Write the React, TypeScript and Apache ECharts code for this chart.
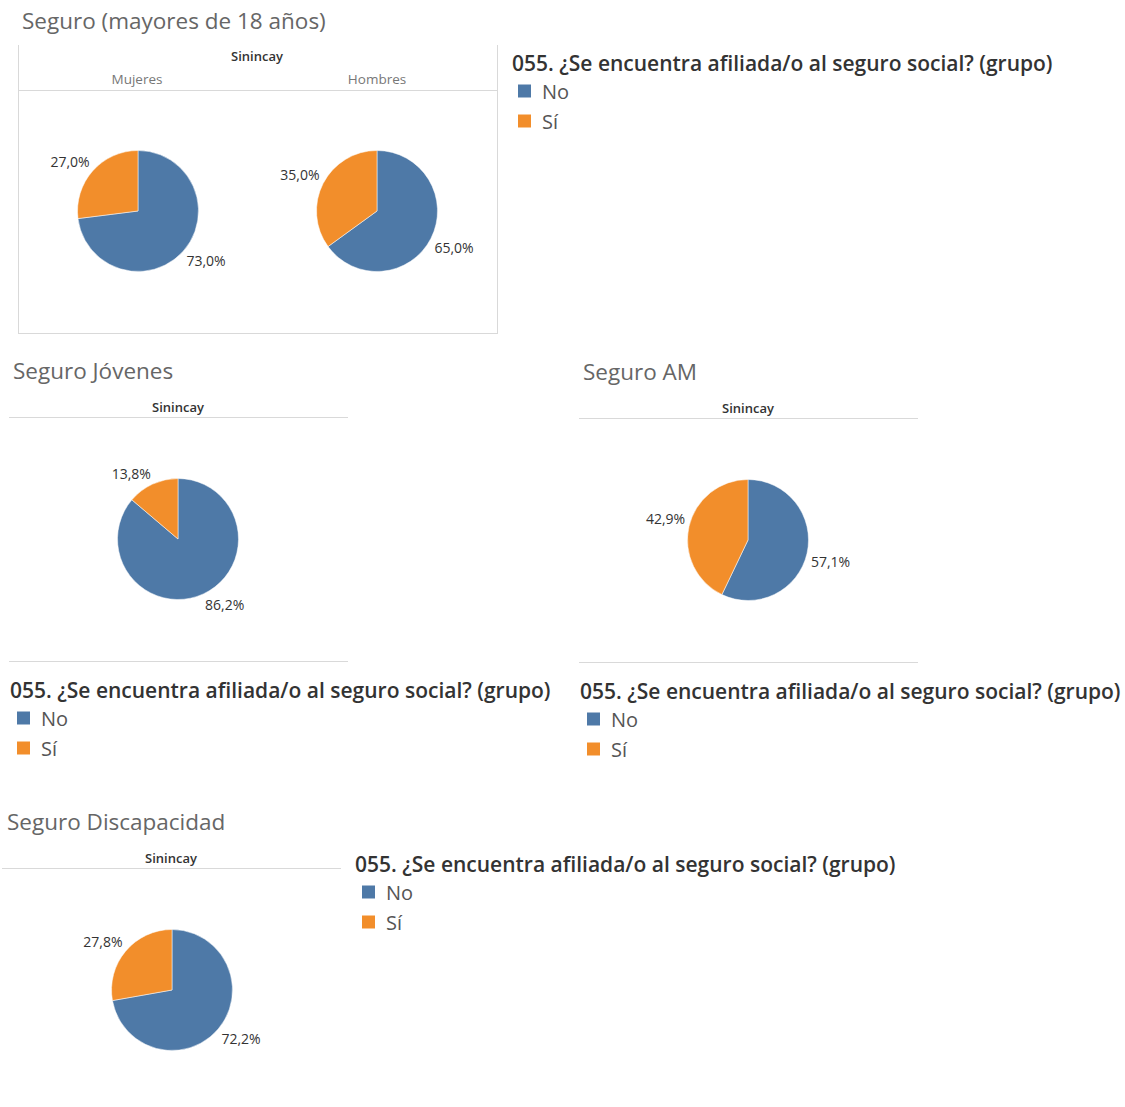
import React, { useEffect, useRef } from "react";
import * as echarts from "echarts";

const categories = ["No", "Sí"];
const colors = ["#4e79a7", "#f28e2b"];
const mujeres = [73.0, 27.0];
const hombres = [65.0, 35.0];
const jovenes = [86.2, 13.8];
const adultosMayores = [57.1, 42.9];
const discapacidad = [72.2, 27.8];

const legendTitle = "055. ¿Se encuentra afiliada/o al seguro social? (grupo)";
const FONT = "'Open Sans', sans-serif";

function pieSeries(name: string, values: number[], center: number[]) {
  const total = values.reduce((a, b) => a + b, 0);
  const signs: number[] = [];
  let acc = 0;
  values.forEach((v) => {
    const mid = ((acc + v / 2) / total) * Math.PI * 2;
    signs.push(-Math.cos(mid) >= 0 ? 1 : -1);
    acc += v;
  });
  return {
    type: "pie",
    name,
    center,
    radius: 60.5,
    startAngle: 90,
    clockwise: true,
    avoidLabelOverlap: false,
    itemStyle: { borderColor: "#fff", borderWidth: 0.5 },
    label: {
      show: true,
      position: "outside",
      fontSize: 14,
      fontFamily: FONT,
      color: "#333",
      distanceToLabelLine: 0,
      formatter: (p: any) => p.value.toFixed(1).replace(".", ",") + "%",
    },
    labelLine: { show: false, length: 4, length2: 0 },
    labelLayout: (p: any) => ({ dy: signs[p.dataIndex] * 7 }),
    emphasis: { disabled: true },
    data: categories.map((c, i) => ({ name: c, value: values[i], itemStyle: { color: colors[i] } })),
  };
}

function txt(x: number, y: number, text: string, size: number, color: string, weight: any = "normal", align = "left") {
  return {
    type: "text",
    x,
    y,
    style: { text, fontSize: size, fontFamily: FONT, fill: color, fontWeight: weight, textAlign: align, textVerticalAlign: "middle" },
  };
}

function hline(x1: number, x2: number, y: number) {
  return { type: "line", shape: { x1, y1: y, x2, y2: y }, style: { stroke: "#d9d9d9", lineWidth: 1 } };
}

function vline(x: number, y1: number, y2: number) {
  return { type: "line", shape: { x1: x, y1, x2: x, y2 }, style: { stroke: "#d9d9d9", lineWidth: 1 } };
}

function legend(left: number, top: number) {
  return {
    left,
    top,
    orient: "vertical",
    padding: 0,
    icon: "rect",
    itemWidth: 15,
    itemHeight: 15,
    itemGap: 10,
    selectedMode: false,
    textStyle: { fontSize: 20, fontFamily: FONT, color: "#555", padding: [0, 0, 0, 5] },
    data: categories,
  };
}

export default function App() {
  const ref = useRef<HTMLDivElement>(null);
  useEffect(() => {
    if (!ref.current) return;
    const chart = echarts.init(ref.current, null, { renderer: "svg" });
    chart.setOption({
      animation: false,
      backgroundColor: "#fff",
      legend: [legend(516, 81), legend(15, 708), legend(585, 709), legend(360, 882)],
      series: [
        pieSeries("Mujeres", mujeres, [138, 211]),
        pieSeries("Hombres", hombres, [377, 211]),
        pieSeries("Jóvenes", jovenes, [178, 539]),
        pieSeries("AM", adultosMayores, [748, 540]),
        pieSeries("Discapacidad", discapacidad, [172, 990]),
      ],
      graphic: [
        txt(22, 20, "Seguro (mayores de 18 años)", 22.5, "#666"),
        vline(18.5, 45, 333),
        vline(497.5, 45, 333),
        hline(18, 498, 333.5),
        hline(18, 498, 90.5),
        txt(257, 56, "Sinincay", 13, "#333", 600, "center"),
        txt(137, 79, "Mujeres", 13.5, "#777", "normal", "center"),
        txt(377, 79, "Hombres", 13.5, "#777", "normal", "center"),
        txt(512, 63, legendTitle, 21, "#333", 600),

        txt(13, 370, "Seguro Jóvenes", 22.5, "#666"),
        txt(178, 407, "Sinincay", 13, "#333", 600, "center"),
        hline(9, 348, 417.5),
        hline(9, 348, 661.5),
        txt(10, 690, legendTitle, 21, "#333", 600),

        txt(583, 371, "Seguro AM", 22.5, "#666"),
        txt(748, 408, "Sinincay", 13, "#333", 600, "center"),
        hline(579, 918, 418.5),
        hline(579, 918, 662.5),
        txt(580, 691, legendTitle, 21, "#333", 600),

        txt(7, 821, "Seguro Discapacidad", 22.5, "#666"),
        txt(171, 858, "Sinincay", 13, "#333", 600, "center"),
        hline(2, 341, 868.5),
        txt(355, 864, legendTitle, 21, "#333", 600),
      ],
    });
    return () => chart.dispose();
  }, []);
  return <div ref={ref} style={{ position: "absolute", left: 0, top: 0, width: 1125, height: 1107 }} />;
}
